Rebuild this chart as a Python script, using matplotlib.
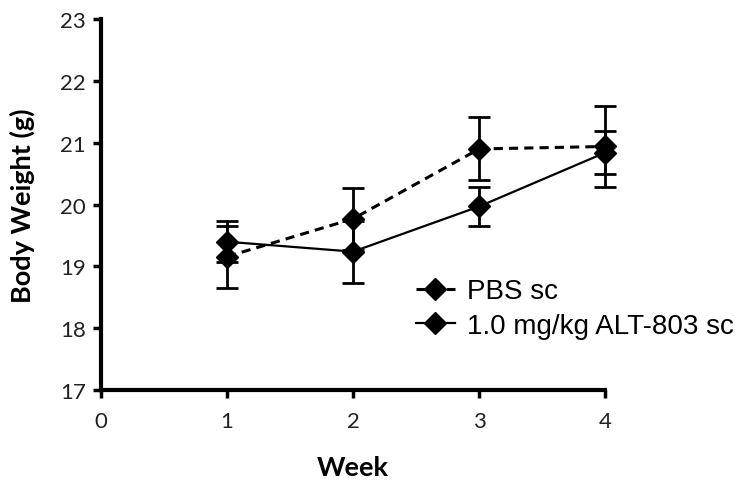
import matplotlib
matplotlib.use("Agg")
import matplotlib.pyplot as plt

weeks = [1, 2, 3, 4]
pbs_mean = [19.16, 19.77, 20.90, 20.94]
pbs_err = [0.50, 0.50, 0.51, 0.65]
alt_mean = [19.40, 19.24, 19.97, 20.84]
alt_err = [0.33, 0.50, 0.31, 0.35]
labels = ["PBS sc", "1.0 mg/kg ALT-803 sc"]
yticks = [17, 18, 19, 20, 21, 22, 23]
xticks = [0, 1, 2, 3, 4]

fig = plt.figure(figsize=(7.48, 4.89), dpi=100)
ax = fig.add_axes([0.135, 0.200, 0.674, 0.759])

e1 = ax.errorbar(weeks, pbs_mean, yerr=pbs_err, color="black", linestyle=(0, (3, 2)), lw=2.2,
                 marker="D", markersize=11, capsize=8, capthick=2, elinewidth=2, label=labels[0])
e2 = ax.errorbar(weeks, alt_mean, yerr=alt_err, color="black", linestyle="-", lw=1.6,
                 marker="D", markersize=11, capsize=8, capthick=2, elinewidth=2, label=labels[1])
for e in (e1, e2):
    for a in e.get_children():
        a.set_clip_on(False)
    e[0].set_clip_on(False)

ax.set_xlim(0, 4)
ax.set_ylim(17, 23)
ax.set_xticks(xticks)
ax.set_yticks(yticks)
for s in ["top", "right"]:
    ax.spines[s].set_visible(False)
for s in ["left", "bottom"]:
    ax.spines[s].set_linewidth(3)
ax.tick_params(direction="out", length=6, width=2.5, labelsize=16, pad=5)
ax.tick_params(axis="x", pad=9)
for t in ax.get_xticklabels() + ax.get_yticklabels():
    t.set_fontfamily("Lato")
    t.set_color("#222222")

ax.set_xlabel("Week", fontsize=19.5, fontweight="bold", family="Lato", labelpad=17)
ax.set_ylabel("Body Weight (g)", fontsize=19.5, fontweight="bold", family="Lato", labelpad=18)

handles, lbls = ax.get_legend_handles_labels()
handles = [h[0] for h in handles]
leg = ax.legend(handles, lbls, loc="center left", bbox_to_anchor=(0.575, 0.22), frameon=False,
                prop={"family": "Liberation Sans", "size": 20}, handlelength=1.4,
                handletextpad=0.45, labelspacing=0.3)
fig.savefig("out.png", dpi=100)
